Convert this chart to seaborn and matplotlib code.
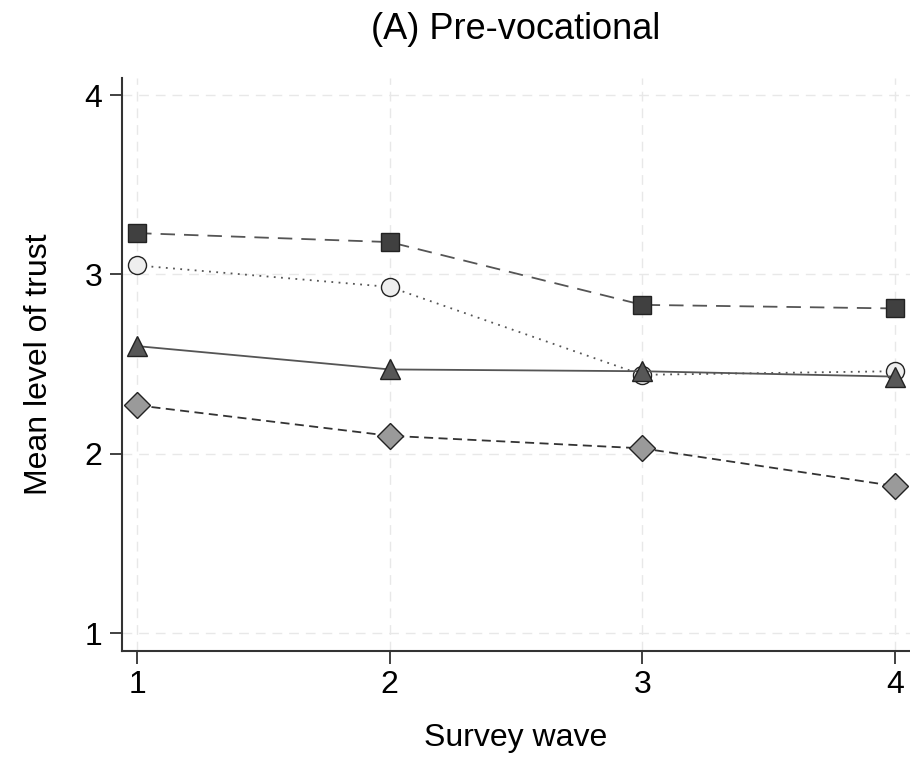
import matplotlib
matplotlib.use("Agg")
import matplotlib.pyplot as plt
import seaborn as sns
import pandas as pd

waves = [1, 2, 3, 4]
series_names = ["Square", "Circle", "Triangle", "Diamond"]
square_vals = [3.23, 3.18, 2.83, 2.81]
circle_vals = [3.05, 2.93, 2.44, 2.46]
triangle_vals = [2.60, 2.47, 2.46, 2.43]
diamond_vals = [2.27, 2.10, 2.03, 1.82]
y_ticks = [1, 2, 3, 4]
x_ticks = [1, 2, 3, 4]

sns.set_theme(style="white")
plt.rcParams['font.family'] = ['Liberation Sans', 'DejaVu Sans']
plt.rcParams['text.color'] = 'black'
plt.rcParams['axes.labelcolor'] = 'black'

fig = plt.figure(figsize=(9.1, 7.57), dpi=100)
ax = fig.add_axes([0.134, 0.140, 0.866, 0.757])

styles = {
    "Square": dict(marker="s", mfc="#404040", ls=(0, (8, 5)), lc="#555555", ms=13, lw=1.3, z=4),
    "Circle": dict(marker="o", mfc="#eeeeee", ls=(0, (1, 3)), lc="#555555", ms=13, lw=1.3, z=3),
    "Triangle": dict(marker="^", mfc="#575757", ls="-", lc="#555555", ms=15, lw=1.3, z=5),
    "Diamond": dict(marker="D", mfc="#9a9a9a", ls=(0, (5, 3)), lc="#333333", ms=13.5, lw=1.3, z=4),
}
values = {"Square": square_vals, "Circle": circle_vals,
          "Triangle": triangle_vals, "Diamond": diamond_vals}

for name in series_names:
    st = styles[name]
    df = pd.DataFrame({"wave": waves, "trust": values[name]})
    sns.lineplot(data=df, x="wave", y="trust", ax=ax, color=st["lc"],
                 linestyle=st["ls"], linewidth=st["lw"], marker=st["marker"],
                 markersize=st["ms"], markerfacecolor=st["mfc"],
                 markeredgecolor="#222222", markeredgewidth=1.0,
                 zorder=st["z"], legend=False)

ax.set_xlim(0.94, 4.06)
ax.set_ylim(0.9, 4.095)
ax.set_xticks(x_ticks)
ax.set_yticks(y_ticks)
ax.set_xticklabels([str(t) for t in x_ticks], fontsize=23)
ax.set_yticklabels([str(t) for t in y_ticks], fontsize=23)
ax.grid(True, color="#e8e8e8", linestyle=(0, (7, 5)), linewidth=1.0)
ax.set_axisbelow(True)
for s in ["top", "right"]:
    ax.spines[s].set_visible(False)
for s in ["left", "bottom"]:
    ax.spines[s].set_color("#333333")
    ax.spines[s].set_linewidth(1.5)
ax.tick_params(axis="both", direction="out", length=9, width=1.3, color="#333333",
               left=True, bottom=True, labelcolor="black")
ax.tick_params(axis="x", pad=5)
ax.tick_params(axis="y", pad=5)
ax.set_xlabel("Survey wave", fontsize=23, labelpad=16)
ax.set_ylabel("Mean level of trust", fontsize=23, labelpad=22)
ax.set_title("(A) Pre-vocational", fontsize=26, pad=28)

fig.savefig("out.png", dpi=100)
